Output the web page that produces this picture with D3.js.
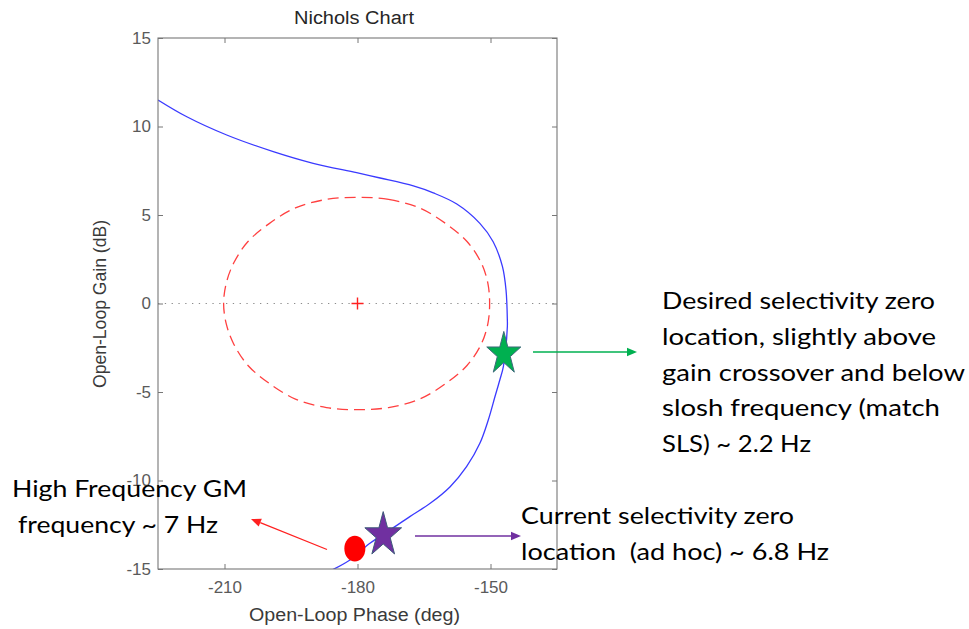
<!DOCTYPE html>
<html><head><meta charset="utf-8">
<script src="https://cdn.jsdelivr.net/npm/d3@7"></script>
<style>body{margin:0;background:#fff;} svg{display:block;}</style>
</head><body>
<svg id="chart" width="969" height="629"></svg>
<script>
// ---------------- data ----------------
const chartTitle = "Nichols Chart";
const xLabel = "Open-Loop Phase (deg)";
const yLabel = "Open-Loop Gain (dB)";
const phaseDomain = [-225, -135];
const gainDomain = [-15, 15];
const phaseTicks = [-210, -180, -150];
const gainTicks = [-15, -10, -5, 0, 5, 10, 15];

// open-loop response (blue)
const responsePhase = [-225.0, -218.5, -209.5, -199.0, -190.0, -180.2, -174.9, -167.4, -162.9, -157.6, -152.4, -149.4, -147.3, -146.5, -146.2, -146.2, -147.1, -147.9, -149.0, -150.5, -152.4, -155.4, -159.1, -163.6, -168.2, -172.7, -177.2, -181.7, -185.8];
const responseGain  = [11.50, 10.55, 9.52, 8.58, 7.92, 7.39, 7.09, 6.64, 6.25, 5.62, 4.53, 3.49, 2.08, 0.76, -0.93, -1.31, -3.57, -4.32, -5.27, -6.58, -7.90, -9.22, -10.35, -11.29, -12.04, -12.80, -13.55, -14.49, -15.06];

// exclusion contour (red dashed), clockwise from the top
const contourPhase = [-180.0, -173.0, -166.0, -160.0, -155.3, -152.1, -150.6, -150.2, -150.6, -152.1, -155.3, -160.0, -166.0, -173.0, -180.0, -187.0, -194.0, -200.0, -204.7, -207.9, -209.6, -210.2, -209.6, -207.9, -204.7, -200.0, -194.0, -187.0];
const contourGain  = [6.00, 5.88, 5.40, 4.50, 3.50, 2.30, 1.15, 0.00, -1.15, -2.30, -3.50, -4.50, -5.40, -5.88, -6.00, -5.88, -5.40, -4.50, -3.50, -2.30, -1.15, 0.00, 1.15, 2.30, 3.50, 4.50, 5.40, 5.88];

const criticalPhase = [-180];
const criticalGain = [0];

// highlighted points: GM point, current zero, desired zero
const markerPhase = [-180.6, -174.2, -147.0];
const markerGain  = [-13.85, -13.08, -2.85];

// annotations
const annoGreen = ["Desired selectivity zero", "location, slightly above", "gain crossover and below", "slosh frequency (match", "SLS) ~ 2.2 Hz"];
const annoPurple = ["Current selectivity zero", "location\u00a0\u00a0(ad hoc) ~ 6.8 Hz"];
const annoRed = ["High Frequency GM", "frequency ~ 7 Hz"];

// ---------------- drawing ----------------
const svg = d3.select("#chart");
const plot = {left: 158, top: 38, width: 399, height: 531};
const x = d3.scaleLinear().domain(phaseDomain).range([plot.left, plot.left + plot.width]);
const y = d3.scaleLinear().domain(gainDomain).range([plot.top + plot.height, plot.top]);

svg.append("rect").attr("width", 969).attr("height", 629).attr("fill", "#fff");

svg.append("defs").append("clipPath").attr("id", "clip")
  .append("rect").attr("x", plot.left).attr("y", plot.top).attr("width", plot.width).attr("height", plot.height);

const gPlot = svg.append("g").attr("clip-path", "url(#clip)");

// 0 dB dotted line
gPlot.append("line")
  .attr("x1", x(phaseDomain[0])).attr("x2", x(phaseDomain[1]))
  .attr("y1", y(0)).attr("y2", y(0))
  .attr("stroke", "#8c8c8c").attr("stroke-width", 1.2).attr("stroke-dasharray", "1.3,5.5");

// contour
const contourPts = contourPhase.map((p, i) => [x(p), y(contourGain[i])]);
gPlot.append("path")
  .attr("d", d3.line().curve(d3.curveCatmullRomClosed.alpha(0.5))(contourPts))
  .attr("fill", "none").attr("stroke", "#ff4040").attr("stroke-width", 1.3)
  .attr("stroke-dasharray", "11,6");

// critical point +
criticalPhase.forEach((p, i) => {
  const cx = x(p), cy = y(criticalGain[i]);
  gPlot.append("path").attr("d", `M${cx - 6},${cy}H${cx + 6}M${cx},${cy - 6}V${cy + 6}`)
    .attr("stroke", "#ff2020").attr("stroke-width", 1.4);
});

// response
const respPts = responsePhase.map((p, i) => [x(p), y(responseGain[i])]);
gPlot.append("path")
  .attr("d", d3.line().curve(d3.curveCatmullRom.alpha(0.5))(respPts))
  .attr("fill", "none").attr("stroke", "#3a3aff").attr("stroke-width", 1.3);

// axes
const tickFont = "'Liberation Sans', Arial, sans-serif";
const xAxis = svg.append("g").attr("transform", `translate(0,${plot.top + plot.height})`)
  .call(d3.axisBottom(x).tickValues(phaseTicks).tickSizeInner(-5).tickSizeOuter(0).tickPadding(12));
const yAxis = svg.append("g").attr("transform", `translate(${plot.left},0)`)
  .call(d3.axisLeft(y).tickValues(gainTicks).tickSizeInner(-5).tickSizeOuter(0).tickPadding(7));
const xTop = svg.append("g").attr("transform", `translate(0,${plot.top})`)
  .call(d3.axisTop(x).tickValues(phaseTicks).tickSizeInner(-5).tickSizeOuter(0).tickFormat(""));
const yRight = svg.append("g").attr("transform", `translate(${plot.left + plot.width},0)`)
  .call(d3.axisRight(y).tickValues(gainTicks).tickSizeInner(-5).tickSizeOuter(0).tickFormat(""));
[xAxis, yAxis, xTop, yRight].forEach(g => {
  g.select(".domain").remove();
  g.selectAll(".tick line").attr("stroke", "#777").attr("stroke-width", 1);
  g.selectAll(".tick text").attr("fill", "#5a5a5a").style("font-family", tickFont).style("font-size", "17px");
});
xAxis.selectAll(".tick text").text(d => String(d));
yAxis.selectAll(".tick text").text(d => String(d));

// frame
svg.append("rect").attr("x", plot.left).attr("y", plot.top).attr("width", plot.width).attr("height", plot.height)
  .attr("fill", "none").attr("stroke", "#777").attr("stroke-width", 1.1);

// title and labels
svg.append("text").attr("x", 354).attr("y", 24).attr("text-anchor", "middle")
  .attr("textLength", 120).attr("lengthAdjust", "spacingAndGlyphs")
  .style("font-family", tickFont).style("font-size", "18px").attr("fill", "#262626").text(chartTitle);
svg.append("text").attr("x", 354.5).attr("y", 621).attr("text-anchor", "middle")
  .attr("textLength", 211).attr("lengthAdjust", "spacingAndGlyphs")
  .style("font-family", tickFont).style("font-size", "18px").attr("fill", "#3a3a3a").text(xLabel);
svg.append("text").attr("transform", "translate(106,304) rotate(-90)").attr("text-anchor", "middle")
  .attr("textLength", 168).attr("lengthAdjust", "spacingAndGlyphs")
  .style("font-family", tickFont).style("font-size", "18px").attr("fill", "#3a3a3a").text(yLabel);

// markers
function starPath(cx, cy, rx, ry) {
  const pts = d3.range(10).map(k => {
    const a = (-90 + k * 36) * Math.PI / 180;
    const r = k % 2 === 0 ? 1 : 0.382;
    return [cx + rx * r * Math.cos(a), cy + ry * r * Math.sin(a)];
  });
  return "M" + pts.map(p => p.join(",")).join("L") + "Z";
}
const gMarks = svg.append("g");
gMarks.append("ellipse").attr("cx", x(markerPhase[0])).attr("cy", y(markerGain[0]))
  .attr("rx", 10.5).attr("ry", 12.8).attr("fill", "#ff0000");
gMarks.append("path").attr("d", starPath(x(markerPhase[1]), y(markerGain[1]), 19.3, 23.4))
  .attr("fill", "#7030a0").attr("stroke", "#3e5a7a").attr("stroke-width", 1);
gMarks.append("path").attr("d", starPath(x(markerPhase[2]), y(markerGain[2]), 17.9, 22.5))
  .attr("fill", "#00b050").attr("stroke", "#3e6a7a").attr("stroke-width", 1);

// arrows
function arrow(x1, y1, x2, y2, color) {
  const ang = Math.atan2(y2 - y1, x2 - x1);
  const L = 10, Wd = 4.2;
  const bx = x2 - L * Math.cos(ang), by = y2 - L * Math.sin(ang);
  svg.append("line").attr("x1", x1).attr("y1", y1).attr("x2", bx).attr("y2", by)
    .attr("stroke", color).attr("stroke-width", 1.3);
  const p1 = [bx + Wd * Math.sin(ang), by - Wd * Math.cos(ang)];
  const p2 = [bx - Wd * Math.sin(ang), by + Wd * Math.cos(ang)];
  svg.append("path").attr("d", `M${x2},${y2}L${p1}L${p2}Z`).attr("fill", color);
}
arrow(533, 352, 637, 352, "#00b050");
arrow(415, 536, 521, 536, "#7030a0");
arrow(327, 549.5, 251, 519, "#ff2020");

// annotation text
const annoFont = "Lato, 'Open Sans', sans-serif";
function block(lines, xs, ys, widths) {
  lines.forEach((t, i) => {
    svg.append("text").attr("x", xs[i]).attr("y", ys[i])
      .attr("textLength", widths[i]).attr("lengthAdjust", "spacingAndGlyphs")
      .style("font-family", annoFont).style("font-size", "23.5px").attr("fill", "#000")
      .text(t);
  });
}
block(annoGreen, [662, 662, 662, 662, 662], [309, 345, 381, 416, 452], [273, 274, 303, 278, 149]);
block(annoPurple, [521, 521], [524, 560], [273, 308]);
block(annoRed, [12, 18], [497, 533], [235, 200]);
</script>
</body></html>
